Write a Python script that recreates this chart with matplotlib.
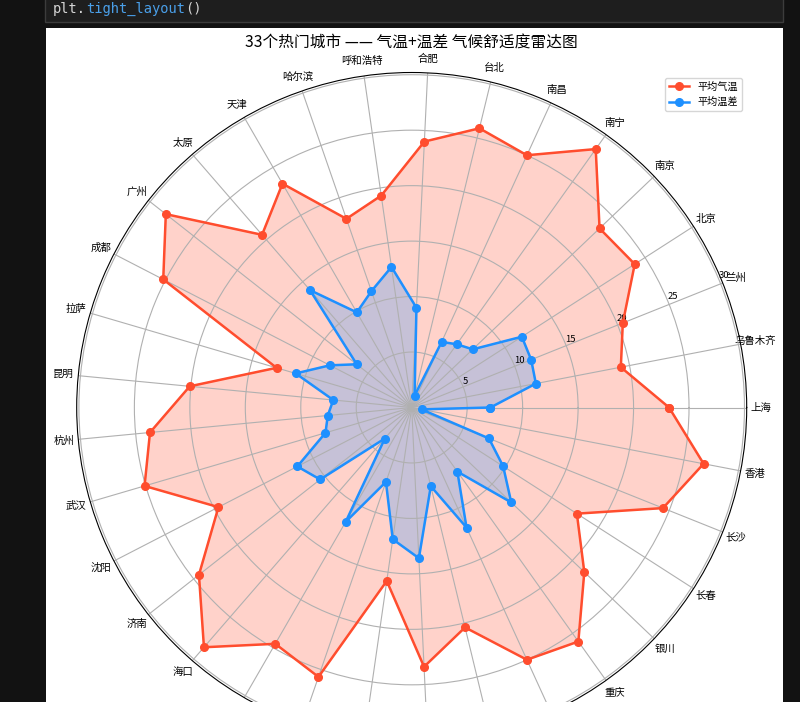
import numpy as np
import matplotlib
matplotlib.use('Agg')
import matplotlib.pyplot as plt
from matplotlib.patches import Rectangle

plt.rcParams['font.family'] = ['Noto Sans CJK SC', 'DejaVu Sans']
plt.rcParams['axes.unicode_minus'] = False

cities = ['上海', '乌鲁木齐', '兰州', '北京', '南京', '南宁', '南昌', '台北', '合肥',
          '呼和浩特', '哈尔滨', '天津', '太原', '广州', '成都', '拉萨', '昆明', '杭州',
          '武汉', '沈阳', '济南', '海口', '石家庄', '福州', '西宁', '西安', '贵阳',
          '郑州', '重庆', '银川', '长春', '长沙', '香港']
avg_temp = [23.2, 19.2, 20.5, 23.9, 23.4, 28.6, 25.0, 25.9, 24.0, 19.3, 18.0, 23.3,
            20.6, 28.2, 25.2, 12.7, 20.1, 23.7, 25.1, 19.6, 24.4, 28.6, 24.6, 25.7,
            15.8, 23.4, 20.4, 25.0, 25.9, 21.5, 17.7, 24.4, 26.8]
temp_range = [7.1, 11.4, 11.6, 11.8, 7.6, 7.0, 6.5, 1.1, 9.0, 12.8, 11.1, 9.9,
              14.0, 6.3, 8.3, 10.9, 7.1, 7.6, 8.1, 11.6, 10.5, 3.7, 11.9, 7.1,
              12.0, 13.6, 7.3, 11.9, 7.1, 12.4, 9.8, 7.5, 0.9]
r_ticks = [5, 10, 15, 20, 25, 30]

W, H = 800, 702
fig = plt.figure(figsize=(W / 100, H / 100), dpi=100, facecolor='#121212')

# notebook look: code cell on top, white output area below
fig.add_artist(Rectangle((45 / W, 1 - 22 / H), 738 / W, 30 / H, transform=fig.transFigure,
                         facecolor='#1e1e1e', edgecolor='#3c3c3c', lw=1.0, zorder=-2))
fig.add_artist(Rectangle((45.5 / W, 0), 737 / W, 1 - 28 / H, transform=fig.transFigure,
                         facecolor='white', edgecolor='none', zorder=-2))
cw = 8.28
x0, ty = 53, 1 - 9 / H
fig.text(x0 / W, ty, 'plt.', color='#d4d4d4', family='DejaVu Sans Mono', fontsize=9.9, va='center')
fig.text((x0 + 4 * cw) / W, ty, 'tight_layout', color='#4a9fe8', family='DejaVu Sans Mono',
         fontsize=9.9, va='center')
fig.text((x0 + 16 * cw) / W, ty, '()', color='#d4d4d4', family='DejaVu Sans Mono',
         fontsize=9.9, va='center')

# polar axes: centre (411.7, 407.5) px, radius 335 px
cx, cy, rad = 411.7, 407.5, 335
ax = fig.add_axes([(cx - rad) / W, (H - cy - rad) / H, 2 * rad / W, 2 * rad / H], polar=True)
ax.set_facecolor('white')

n = len(cities)
angles = np.linspace(0, 2 * np.pi, n, endpoint=False)
ang_c = np.concatenate([angles, angles[:1]])
t_c = np.concatenate([avg_temp, avg_temp[:1]])
r_c = np.concatenate([temp_range, temp_range[:1]])

red = '#FF4D2E'
blue = '#1E90FF'
ax.plot(ang_c, t_c, 'o-', color=red, lw=1.8, ms=5.5, label='平均气温')
ax.fill(ang_c, t_c, color=red, alpha=0.25)
ax.plot(ang_c, r_c, 'o-', color=blue, lw=1.8, ms=5.5, label='平均温差')
ax.fill(ang_c, r_c, color=blue, alpha=0.25)

ax.set_xticks(angles)
ax.set_xticklabels(cities, fontsize=7.5)
ax.tick_params(axis='x', pad=0)
ax.set_ylim(0, 30.2)
ax.set_yticks(r_ticks)
ax.set_yticklabels([str(v) for v in r_ticks], fontsize=6.8)
ax.set_rlabel_position(22.5)
ax.grid(True, color='#b0b0b0', lw=0.8)

ax.set_title('33个热门城市 —— 气温+温差 气候舒适度雷达图', fontsize=11.3,
             y=(cy + rad - 43) / (2 * rad), pad=0, va='center')
ax.legend(loc='upper right', fontsize=7.3)

fig.savefig('out.png', dpi=100, facecolor=fig.get_facecolor())
